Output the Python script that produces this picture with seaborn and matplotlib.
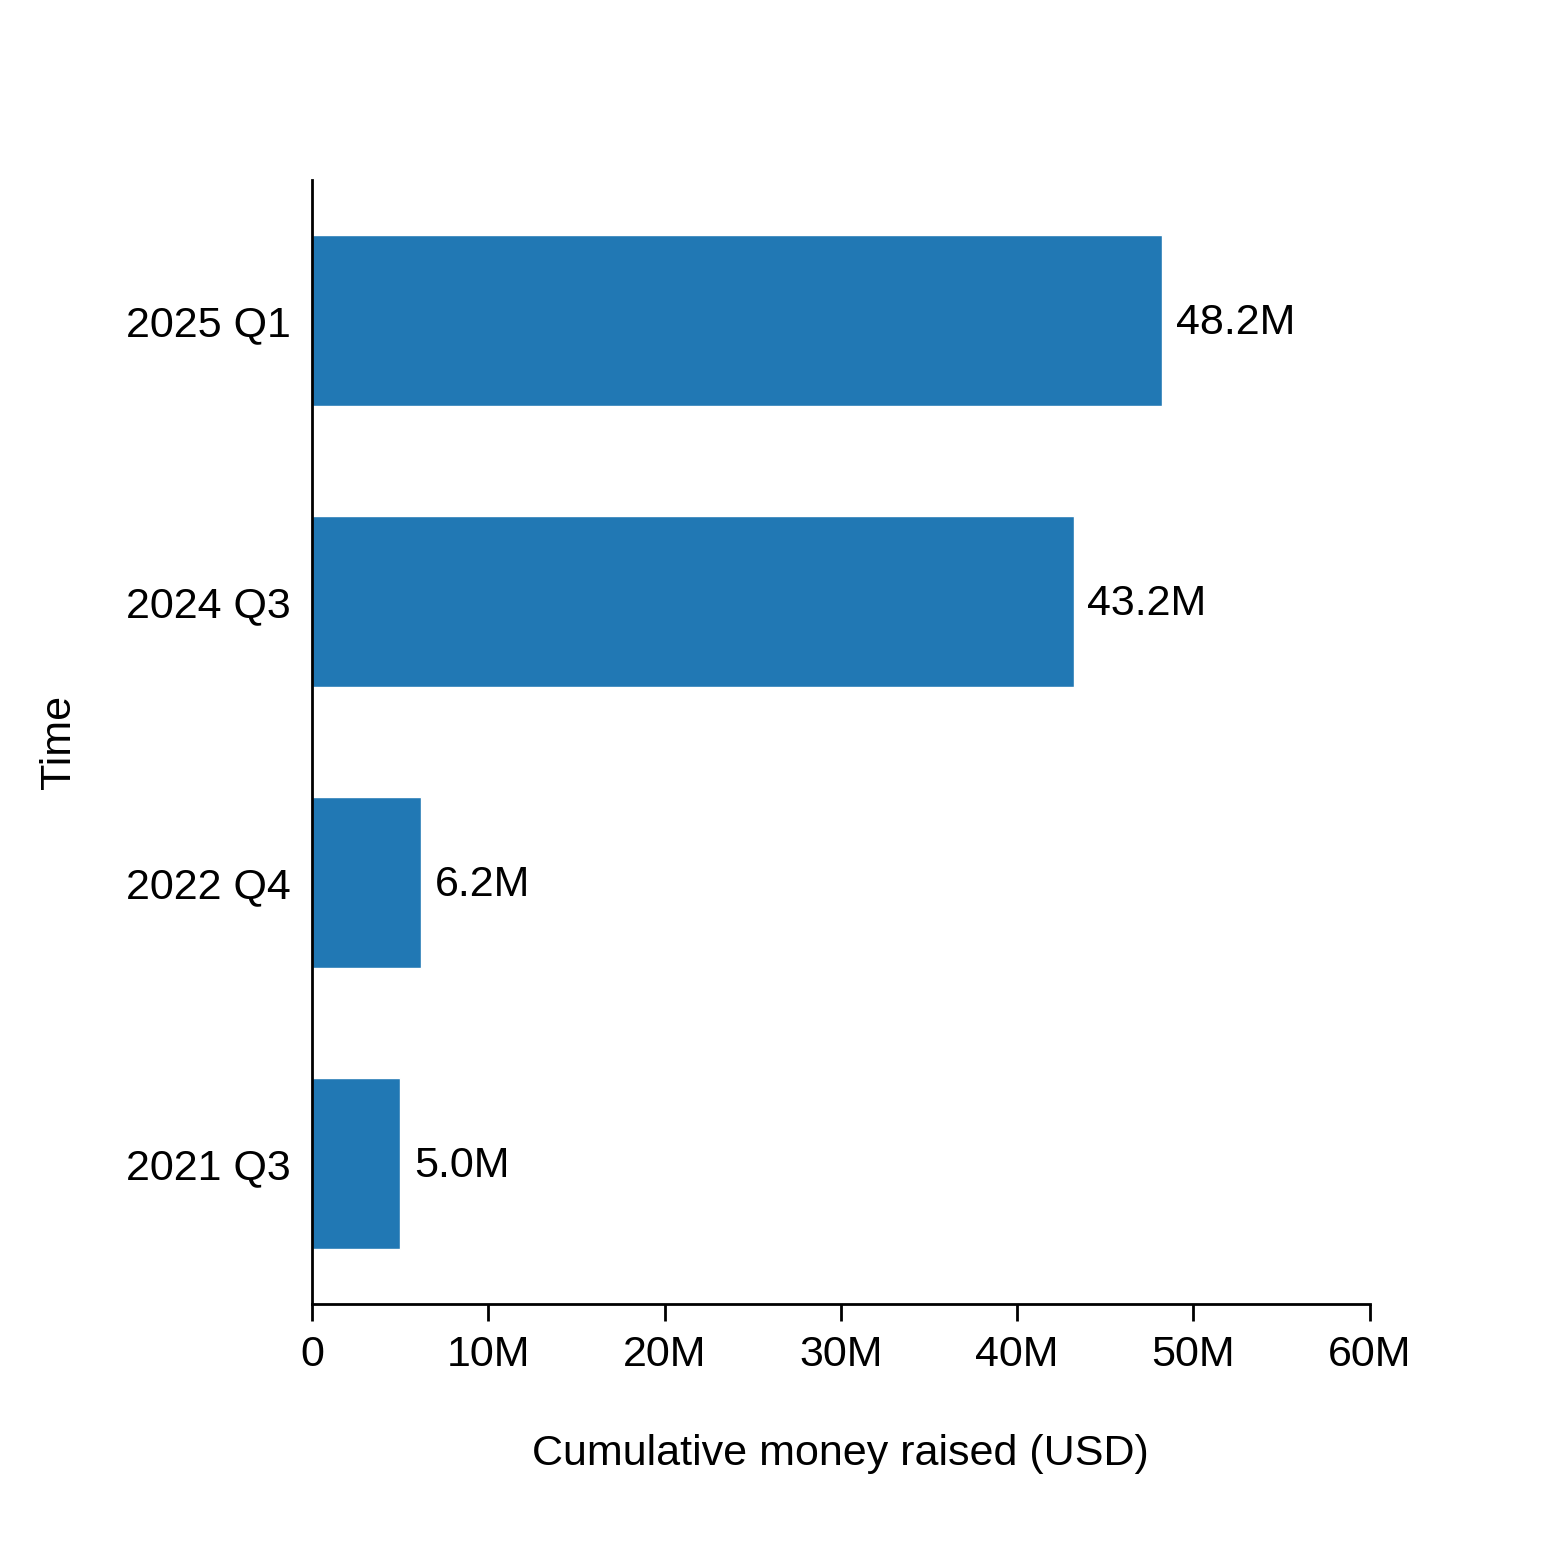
import matplotlib
matplotlib.use("Agg")
import matplotlib.pyplot as plt
import seaborn as sns
import pandas as pd
from matplotlib.ticker import FuncFormatter

# Funding rounds (cumulative, USD millions)
periods = ["2025 Q1", "2024 Q3", "2022 Q4", "2021 Q3"]
raised_musd = [48.2, 43.2, 6.2, 5.0]
xtick_values = [0, 10, 20, 30, 40, 50, 60]

df = pd.DataFrame({"Time": periods, "Raised": [v * 1e6 for v in raised_musd]})

sns.set_theme(style="ticks")
plt.rcParams["font.family"] = ["Liberation Sans", "DejaVu Sans"]
plt.rcParams["text.color"] = "black"
plt.rcParams["axes.labelcolor"] = "black"
plt.rcParams["xtick.color"] = "black"
plt.rcParams["ytick.color"] = "black"

fs = 31

fig = plt.figure(figsize=(15.6, 15.64), dpi=100)
ax = fig.add_axes([0.2, 0.1662, 0.678, 0.7187])

sns.barplot(data=df, x="Raised", y="Time", order=periods, color="#2178b4",
            width=0.61, saturation=1, ax=ax)

for i, v in enumerate(raised_musd):
    ax.annotate(f"{v:.1f}M", xy=(v * 1e6, i), xytext=(10, -2),
                textcoords="offset points", va="center", ha="left",
                fontsize=fs, color="black")

ax.set_xlim(0, 60e6)
ax.set_ylim(3.5, -0.5)
ax.set_xticks([t * 1e6 for t in xtick_values])
ax.xaxis.set_major_formatter(FuncFormatter(lambda x, p: "0" if x == 0 else f"{x/1e6:.0f}M"))

ax.set_xlabel("Cumulative money raised (USD)", fontsize=fs, labelpad=43)
ax.set_ylabel("Time", fontsize=fs, labelpad=34)

ax.tick_params(axis="x", labelsize=fs, length=12, width=2, pad=10)
ax.tick_params(axis="y", labelsize=fs, length=0, pad=15)

sns.despine(ax=ax)
for s in ["left", "bottom"]:
    ax.spines[s].set_linewidth(2)
    ax.spines[s].set_color("black")

fig.savefig("out.png", dpi=100)
